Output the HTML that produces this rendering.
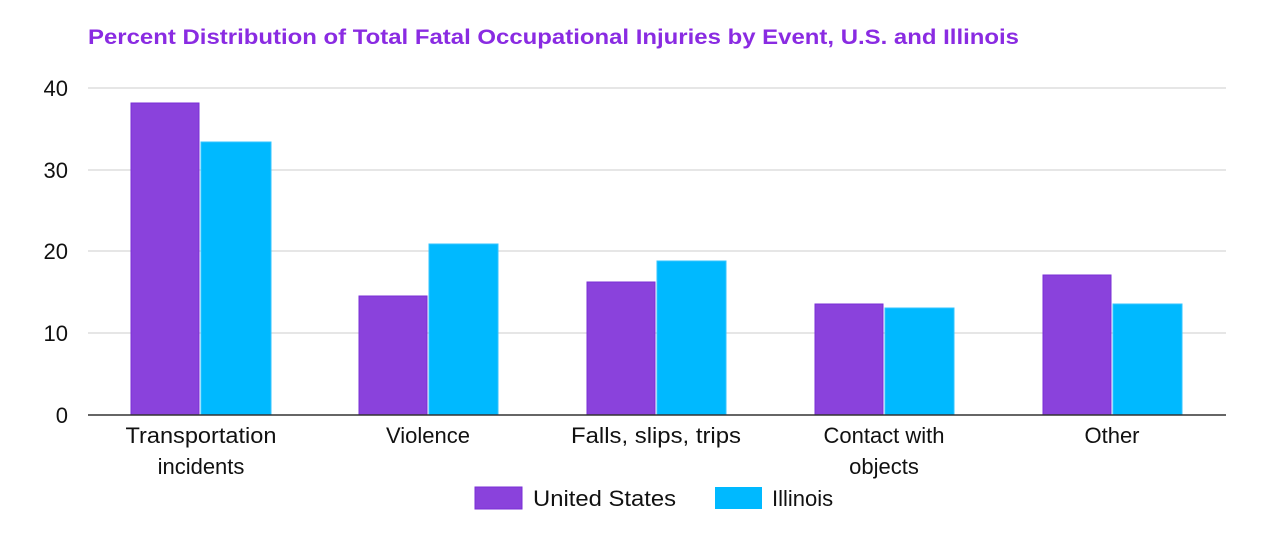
<!DOCTYPE html>
<html><head><meta charset="utf-8"><style>
body{margin:0;background:#fff;}
svg text{font-family:"Liberation Sans",Arial,sans-serif;}
</style></head><body>
<svg width="1280" height="533" viewBox="0 0 1280 533" xmlns="http://www.w3.org/2000/svg">
<rect width="1280" height="533" fill="#fff"/>
<text x="88" y="44" font-size="21" font-weight="bold" fill="#8a2be2" textLength="931" lengthAdjust="spacingAndGlyphs">Percent Distribution of Total Fatal Occupational Injuries by Event, U.S. and Illinois</text>
<g stroke="#cccccc" stroke-width="1">
<line x1="88" y1="88" x2="1226" y2="88"/>
<line x1="88" y1="170" x2="1226" y2="170"/>
<line x1="88" y1="251" x2="1226" y2="251"/>
<line x1="88" y1="333" x2="1226" y2="333"/>
</g>
<g font-size="22" fill="#111" text-anchor="end">
<text x="68" y="96">40</text><text x="68" y="178">30</text><text x="68" y="259">20</text><text x="68" y="341">10</text><text x="68" y="423">0</text>
</g>
<g fill="#8a42dc" stroke="#7a2fd6" stroke-width="1">
<rect x="131" y="103" width="68" height="312"/>
<rect x="359" y="296" width="68" height="119"/>
<rect x="587" y="282" width="68" height="133"/>
<rect x="815" y="304" width="68" height="111"/>
<rect x="1043" y="275" width="68" height="140"/>
</g>
<g fill="#00b9ff" stroke="#33c4ff" stroke-width="1">
<rect x="201" y="142" width="70" height="273"/>
<rect x="429" y="244" width="69" height="171"/>
<rect x="657" y="261" width="69" height="154"/>
<rect x="885" y="308" width="69" height="107"/>
<rect x="1113" y="304" width="69" height="111"/>
</g>
<line x1="88" y1="415" x2="1226" y2="415" stroke="#333" stroke-width="1.5"/>
<g font-size="22" fill="#111" text-anchor="middle">
<text x="201" y="443" textLength="151" lengthAdjust="spacingAndGlyphs">Transportation</text><text x="201" y="474">incidents</text>
<text x="428" y="443">Violence</text>
<text x="656" y="443" textLength="170" lengthAdjust="spacingAndGlyphs">Falls, slips, trips</text>
<text x="884" y="443">Contact with</text><text x="884" y="474">objects</text>
<text x="1112" y="443">Other</text>
</g>
<rect x="475" y="487" width="47" height="22" fill="#8a42dc" stroke="#7a2fd6"/>
<text x="533" y="506" font-size="22" fill="#111" textLength="143" lengthAdjust="spacingAndGlyphs">United States</text>
<rect x="715" y="487" width="47" height="22" fill="#00b9ff"/>
<text x="772" y="506" font-size="22" fill="#111">Illinois</text>
</svg>
</body></html>
